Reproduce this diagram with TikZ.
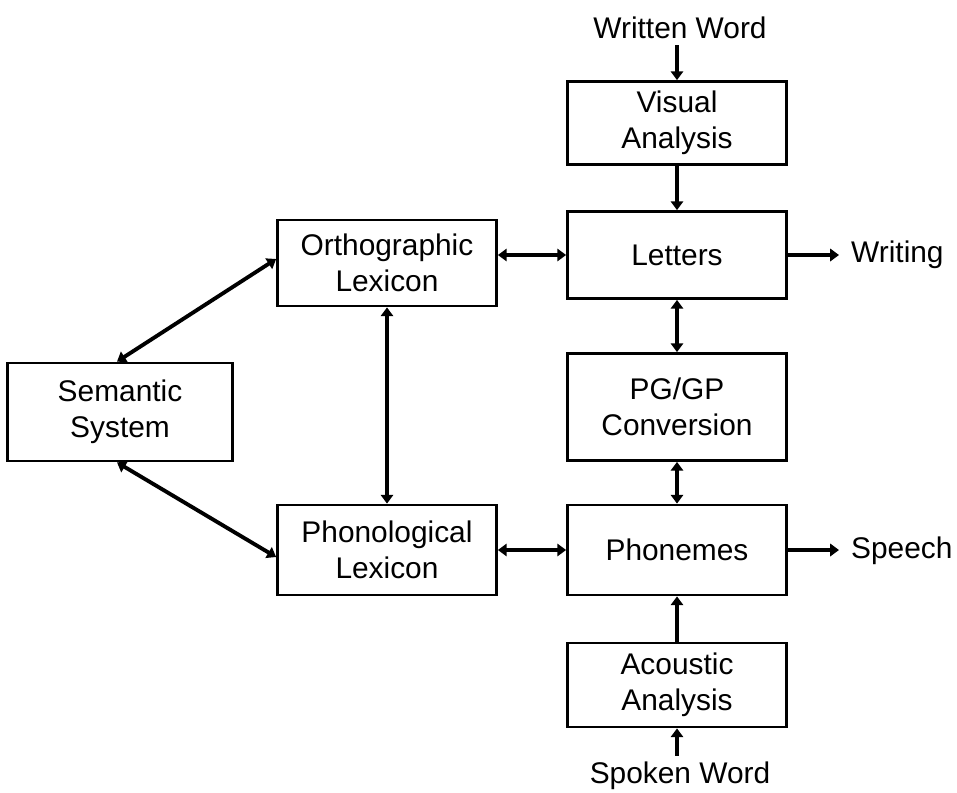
\documentclass[tikz,border=0pt]{standalone}
\usepackage{fontspec}
\setmainfont{Liberation Sans}
\usetikzlibrary{arrows.meta}

\begin{document}
\begin{tikzpicture}[x=0.02cm,y=-0.02cm,
  box/.style={rectangle,draw,line width=1.6pt,minimum width=4.38cm,align=center,
    font=\fontsize{17}{20.5}\selectfont},
  word/.style={font=\fontsize{17}{20.5}\selectfont},
  link/.style={line width=2.2pt,-{Triangle[length=5pt,width=7pt]}},
  both/.style={line width=2.2pt,{Triangle[length=5pt,width=7pt]}-{Triangle[length=5pt,width=7pt]}}]
\useasboundingbox (0,0) rectangle (957,792);
\node[box,minimum height=1.66cm] (visual) at (677,123) {Visual\\Analysis};
\node[box,minimum height=1.74cm] (letters) at (677,255) {Letters};
\node[box,minimum height=2.14cm] (pggp) at (677,407) {PG/GP\\Conversion};
\node[box,minimum height=1.8cm] (phonemes) at (677,550) {Phonemes};
\node[box,minimum height=1.68cm] (acoustic) at (677,685) {Acoustic\\Analysis};
\node[box,minimum height=1.72cm] (ortho) at (387,263) {Orthographic\\Lexicon};
\node[box,minimum height=1.8cm] (phono) at (387,550) {Phonological\\Lexicon};
\node[box,minimum height=1.96cm,minimum width=4.5cm] (semantic) at (120,412) {Semantic\\System};
\node[word] (written) at (680,28) {Written Word};
\node[word] (spoken) at (680,776) {Spoken Word};
\node[word,anchor=west] (writing) at (845,255) {Writing};
\node[word,anchor=west] (speech) at (845,551) {Speech};
\draw[link] (written.south -| visual) -- (visual);
\draw[link] (visual) -- (letters);
\draw[link,shorten >=0.12cm] (letters.east) -- (writing.west |- letters);
\draw[both] (ortho.east |- letters) -- (letters);
\draw[both] (letters) -- (pggp);
\draw[both] (pggp) -- (phonemes);
\draw[both] (phono) -- (phonemes);
\draw[link,shorten >=0.12cm] (phonemes.east) -- (speech.west |- phonemes);
\draw[link] (acoustic) -- (phonemes);
\draw[link] (spoken.north -| acoustic) -- (acoustic);
\draw[both] (ortho) -- (phono);
\draw[both] ([xshift=-0.06cm]semantic.north) -- ([yshift=0.08cm]ortho.west);
\draw[both] ([xshift=-0.06cm]semantic.south) -- ([yshift=-0.14cm]phono.west);
\end{tikzpicture}
\end{document}
